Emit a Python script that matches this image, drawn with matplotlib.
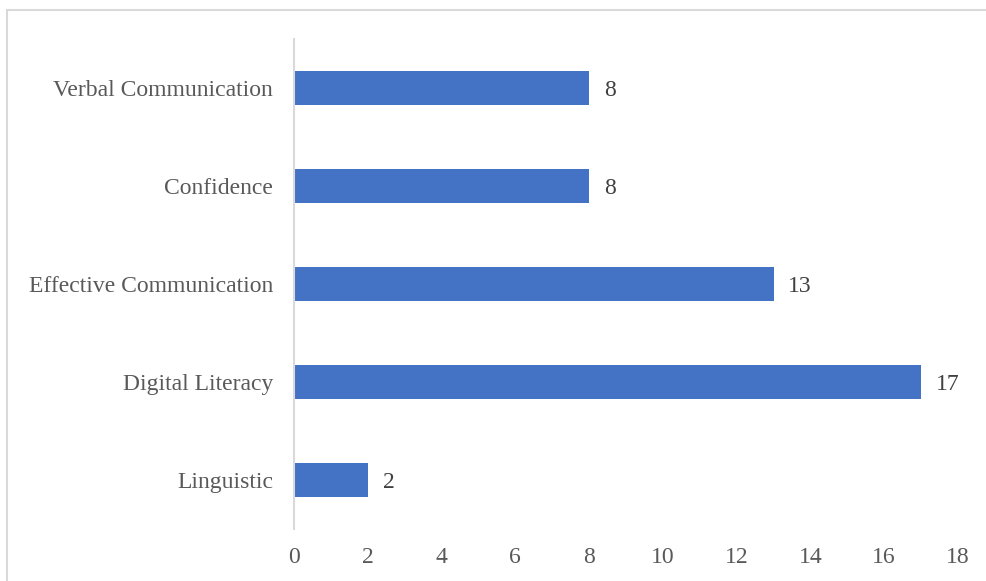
import matplotlib.pyplot as plt
from matplotlib.patches import Rectangle

categories = ['Linguistic', 'Digital Literacy', 'Effective Communication', 'Confidence', 'Verbal Communication']
counts = [2, 17, 13, 8, 8]
xticks = [0, 2, 4, 6, 8, 10, 12, 14, 16, 18]

plt.rcParams['font.family'] = ['Liberation Serif', 'DejaVu Serif']

fig = plt.figure(figsize=(9.87, 5.81), dpi=100)
ax = fig.add_axes([294/987, 1 - 529/581, 664/987, 490/581])

# outer chart border (cut off at right and bottom as in the original)
fig.patches.append(Rectangle((7/987, -0.05), 1.2, 1 - 10/581 + 0.05, transform=fig.transFigure,
                             fill=False, edgecolor='#d9d9d9', linewidth=1.5))

pos = range(len(categories))
bars = ax.barh(pos, counts, height=0.35, color='#4472c4')
for b, v in zip(bars, counts):
    ax.text(v + 0.4, b.get_y() + b.get_height() / 2, str(v), va='center_baseline', ha='left',
            fontsize=17, color='#404040')

ax.set_xlim(0, 18)
ax.set_ylim(-0.5, len(categories) - 0.5)
ax.set_xticks(xticks)
ax.set_yticks(list(pos))
ax.set_yticklabels(categories, va='center_baseline')
ax.tick_params(axis='both', length=0, labelsize=17, colors='#595959')
ax.tick_params(axis='x', pad=13)
ax.tick_params(axis='y', pad=15)

for s in ['top', 'right', 'bottom']:
    ax.spines[s].set_visible(False)
ax.spines['left'].set_color('#d9d9d9')
ax.spines['left'].set_linewidth(1.5)

fig.savefig('out.png', dpi=100)
